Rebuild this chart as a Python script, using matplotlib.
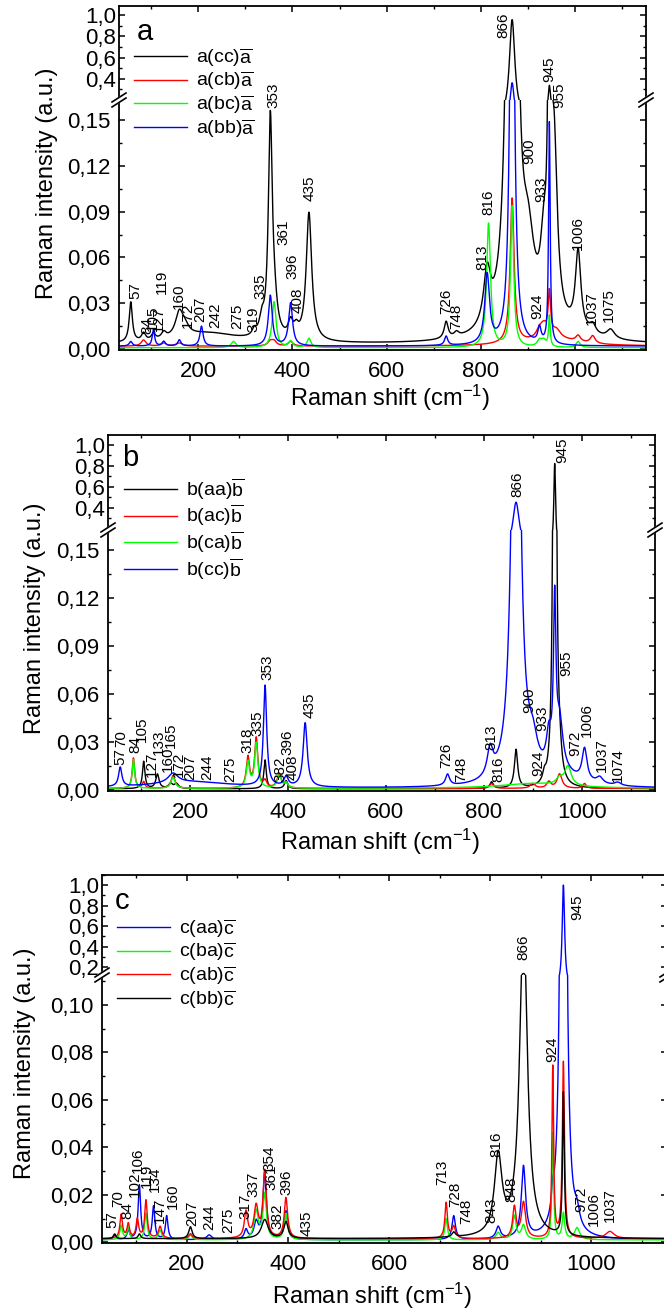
import numpy as np
import matplotlib
matplotlib.use("Agg")
import matplotlib.pyplot as plt
from matplotlib.ticker import MultipleLocator, FixedLocator, FuncFormatter
from matplotlib.lines import Line2D

plt.rcParams['font.family'] = ['Liberation Sans', 'DejaVu Sans']
plt.rcParams['mathtext.fontset'] = 'custom'
plt.rcParams['mathtext.rm'] = 'Liberation Sans'
plt.rcParams['mathtext.it'] = 'Liberation Sans'
plt.rcParams['mathtext.bf'] = 'Liberation Sans:bold'

# ---- peak tables: position (cm-1), height, half width ----
# panel a
a_cc_pos = [57, 84, 105, 127, 160, 172, 220, 319, 335, 353, 361, 396, 408, 435, 726, 748, 813, 866, 900, 933, 945, 955, 1006, 1037, 1075, 940]
a_cc_amp = [0.026, 0.005, 0.004, 0.004, 0.016, 0.005, 0.007, 0.004, 0.010, 0.140, 0.018, 0.010, 0.006, 0.084, 0.011, 0.003, 0.034, 0.94, 0.045, 0.038, 0.26, 0.11, 0.052, 0.006, 0.006, 0.008]
a_cc_hw = [4, 5, 5, 6, 10, 10, 80, 5, 6, 5, 8, 6, 6, 7, 5, 6, 9, 7, 15, 8, 3, 8, 7, 8, 10, 60]
a_cb_pos = [84, 127, 160, 353, 361, 396, 866, 924, 933, 945, 960, 1006, 1037, 950]
a_cb_amp = [0.004, 0.002, 0.002, 0.003, 0.003, 0.003, 0.095, 0.005, 0.007, 0.028, 0.005, 0.004, 0.005, 0.005]
a_cb_hw = [6, 6, 8, 6, 6, 6, 5, 8, 8, 3, 10, 6, 6, 60]
a_bc_pos = [275, 361, 396, 435, 816, 866, 924, 933, 945, 1006]
a_bc_amp = [0.004, 0.030, 0.004, 0.006, 0.081, 0.092, 0.004, 0.004, 0.020, 0.004]
a_bc_hw = [6, 5, 5, 5, 5, 4, 6, 6, 2, 5]
a_bb_pos = [57, 105, 127, 160, 207, 353, 396, 726, 813, 866, 924, 945]
a_bb_amp = [0.003, 0.011, 0.003, 0.004, 0.013, 0.033, 0.028, 0.006, 0.045, 0.36, 0.010, 0.145]
a_bb_hw = [4, 3, 4, 4, 4, 5, 5, 4, 6, 5, 4, 2]
a_base = [0.003, 0.002, 0.001, 0.002]
a_names = [r'a(cc)$\overline{\mathrm{a}}$', r'a(cb)$\overline{\mathrm{a}}$',
           r'a(bc)$\overline{\mathrm{a}}$', r'a(bb)$\overline{\mathrm{a}}$']
a_colors = ['black', '#ff0000', '#00ff00', '#0000ff']
a_peak_labels = [57, 84, 105, 127, 119, 160, 172, 207, 242, 275, 319, 335, 353, 361, 396, 408, 435,
                 726, 748, 813, 816, 866, 900, 924, 933, 945, 955, 1006, 1037, 1075]

# panel b
b_aa_pos = [105, 133, 160, 172, 353, 396, 816, 866, 924, 945, 955]
b_aa_amp = [0.017, 0.009, 0.003, 0.003, 0.018, 0.005, 0.004, 0.024, 0.005, 0.82, 0.012]
b_aa_hw = [3, 4, 5, 5, 3, 4, 4, 4, 4, 2.2, 5]
b_ac_pos = [84, 105, 165, 318, 335, 353, 382, 396, 816, 900, 933, 955, 1006]
b_ac_amp = [0.019, 0.004, 0.008, 0.019, 0.031, 0.004, 0.009, 0.003, 0.003, 0.003, 0.004, 0.009, 0.003]
b_ac_hw = [3, 3, 5, 4, 4, 4, 5, 4, 5, 6, 5, 6, 4]
b_ca_pos = [84, 165, 318, 335, 382, 396, 955, 972, 900]
b_ca_amp = [0.018, 0.007, 0.016, 0.028, 0.008, 0.003, 0.004, 0.012, 0.003]
b_ca_hw = [3, 5, 4, 4, 5, 4, 8, 8, 80]
b_cc_pos = [57, 165, 200, 353, 396, 435, 726, 813, 866, 900, 933, 945, 955, 1006, 1037, 1074, 960]
b_cc_amp = [0.012, 0.006, 0.004, 0.063, 0.006, 0.040, 0.007, 0.017, 0.45, 0.018, 0.020, 0.10, 0.03, 0.02, 0.004, 0.002, 0.006]
b_cc_hw = [4, 12, 100, 4, 5, 5, 5, 7, 8, 12, 6, 3, 8, 6, 8, 8, 40]
b_base = [0.0008, 0.001, 0.001, 0.001]
b_names = [r'b(aa)$\overline{\mathrm{b}}$', r'b(ac)$\overline{\mathrm{b}}$',
           r'b(ca)$\overline{\mathrm{b}}$', r'b(cc)$\overline{\mathrm{b}}$']
b_colors = ['black', '#ff0000', '#00ff00', '#0000ff']
b_peak_labels = [57, 70, 84, 105, 127, 133, 160, 165, 172, 207, 244, 275, 318, 335, 353, 382, 396, 408, 435,
                 726, 748, 813, 816, 866, 900, 924, 933, 945, 955, 972, 1006, 1037, 1074]

# panel c
c_aa_pos = [57, 84, 106, 134, 160, 244, 317, 337, 354, 396, 728, 816, 866, 924, 945, 972]
c_aa_amp = [0.002, 0.004, 0.023, 0.014, 0.010, 0.002, 0.004, 0.007, 0.028, 0.012, 0.010, 0.005, 0.030, 0.008, 1.0, 0.006]
c_aa_hw = [3, 3, 3, 3, 3, 6, 4, 5, 4, 4, 4, 5, 5, 3, 2.9, 6]
c_ba_pos = [70, 84, 119, 147, 207, 337, 354, 396, 713, 816, 848, 866, 924, 945, 972]
c_ba_amp = [0.006, 0.005, 0.011, 0.004, 0.002, 0.012, 0.019, 0.011, 0.009, 0.003, 0.010, 0.006, 0.045, 0.011, 0.005]
c_ba_hw = [3, 3, 3, 4, 4, 5, 4, 4, 3, 5, 4, 5, 2, 3, 6]
c_ab_pos = [70, 84, 102, 119, 147, 207, 317, 337, 354, 396, 713, 728, 848, 866, 924, 945, 1037]
c_ab_amp = [0.010, 0.006, 0.008, 0.016, 0.005, 0.002, 0.011, 0.013, 0.028, 0.017, 0.015, 0.005, 0.013, 0.015, 0.072, 0.074, 0.003]
c_ab_hw = [3, 3, 3, 3, 4, 4, 4, 5, 4, 4, 3, 4, 4, 5, 2, 2.5, 10]
c_bb_pos = [57, 106, 207, 354, 396, 728, 816, 866, 945]
c_bb_amp = [0.002, 0.002, 0.005, 0.008, 0.007, 0.002, 0.033, 0.135, 0.060]
c_bb_hw = [3, 3, 4, 8, 5, 4, 9, 9, 2]
c_base = [0.001, 0.001, 0.0015, 0.0015]
c_names = [r'c(aa)$\overline{\mathrm{c}}$', r'c(ba)$\overline{\mathrm{c}}$',
           r'c(ab)$\overline{\mathrm{c}}$', r'c(bb)$\overline{\mathrm{c}}$']
c_colors = ['#0000ff', '#00ff00', '#ff0000', 'black']
c_peak_labels = [57, 70, 84, 102, 106, 119, 134, 147, 160, 207, 244, 275, 317, 337, 354, 361, 382, 396, 435,
                 713, 728, 748, 843, 816, 848, 866, 924, 945, 972, 1006, 1037]

# where each peak label sits (x in cm-1, bottom of the text in intensity units)
a_lab_x = [66, 92, 104, 117, 124, 158, 179, 204, 236, 283, 317, 332, 359, 380, 400, 410, 436,
           726, 747, 803, 815, 847, 902, 919, 928, 945, 966, 1006, 1036, 1072]
a_lab_y = [0.0326, 0.0098, 0.0117, 0.011, 0.036, 0.026, 0.014, 0.0176, 0.014, 0.013, 0.011, 0.033, 0.158, 0.068,
           0.046, 0.024, 0.097, 0.023, 0.013, 0.052, 0.088, 0.78, 0.121, 0.0196, 0.096, 0.37, 0.158, 0.065,
           0.016, 0.0176]
b_lab_x = [57, 59, 88, 102, 122, 135, 155, 160, 176, 200, 235, 282, 318, 337, 357, 384, 398, 410, 445,
           723, 755, 816, 829, 868, 892, 912, 920, 960, 969, 986, 1010, 1041, 1074]
b_lab_y = [0.0156, 0.027, 0.023, 0.030, 0.008, 0.022, 0.011, 0.026, 0.008, 0.006, 0.006, 0.005, 0.023, 0.034,
           0.069, 0.005, 0.022, 0.006, 0.045, 0.014, 0.005, 0.025, 0.005, 0.505, 0.048, 0.009, 0.037, 0.83,
           0.071, 0.021, 0.033, 0.011, 0.005]
c_lab_x = [52, 64, 83, 97, 103, 121, 137, 147, 172, 210, 245, 281, 315, 331, 364, 368, 380, 397, 437,
           706, 731, 753, 802, 813, 843, 865, 922, 972, 980, 1006, 1036]
c_lab_y = [0.006, 0.015, 0.010, 0.019, 0.029, 0.023, 0.021, 0.008, 0.014, 0.007, 0.005, 0.004, 0.010, 0.019,
           0.030, 0.022, 0.0055, 0.020, 0.0025, 0.024, 0.015, 0.0075, 0.008, 0.036, 0.017, 0.27, 0.076, 0.66,
           0.0126, 0.0067, 0.0084]

x = np.arange(30, 1151, 0.5)


def spectrum(pos, amp, hw, base):
    y = np.full_like(x, base)
    for p, a, w in zip(pos, amp, hw):
        y += a * w**2 / ((x - p)**2 + w**2)
    return y


W, H = 664, 1313
fig = plt.figure(figsize=(W / 100, H / 100), dpi=100)


def rect(l, t, r, b):
    return [l / W, 1 - b / H, (r - l) / W, (b - t) / H]


def fmt(nd):
    return FuncFormatter(lambda v, p: f'{v:.{nd}f}'.replace('.', ','))


panels = [
    dict(box=(119, 6, 646, 100, 350), lo=(-0.0005, 0.163), up=(0.2, 1.085),
         lo_major=0.03, lo_minor=0.015, up_ticks=[0.4, 0.6, 0.8, 1.0],
         series=[(a_cc_pos, a_cc_amp, a_cc_hw), (a_cb_pos, a_cb_amp, a_cb_hw),
                 (a_bc_pos, a_bc_amp, a_bc_hw), (a_bb_pos, a_bb_amp, a_bb_hw)],
         base=a_base, names=a_names, colors=a_colors,
         labels=(a_peak_labels, a_lab_x, a_lab_y), letter='a', letter_xy=(145, 32),
         leg=(134, 46), ylab=(47, 183), xlab=(390, 398)),
    dict(box=(108, 435, 655, 530, 791), lo=(-0.0006, 0.1625), up=(0.19, 1.095),
         lo_major=0.03, lo_minor=0.015, up_ticks=[0.4, 0.6, 0.8, 1.0],
         series=[(b_aa_pos, b_aa_amp, b_aa_hw), (b_ac_pos, b_ac_amp, b_ac_hw),
                 (b_ca_pos, b_ca_amp, b_ca_hw), (b_cc_pos, b_cc_amp, b_cc_hw)],
         base=b_base, names=b_names, colors=b_colors,
         labels=(b_peak_labels, b_lab_x, b_lab_y), letter='b', letter_xy=(130, 458),
         leg=(124, 476), ylab=(35, 618), xlab=(380, 842)),
    dict(box=(102, 875, 667, 975, 1243), lo=(-0.0003, 0.1126), up=(0.122, 1.1),
         lo_major=0.02, lo_minor=0.01, up_ticks=[0.2, 0.4, 0.6, 0.8, 1.0],
         series=[(c_aa_pos, c_aa_amp, c_aa_hw), (c_ba_pos, c_ba_amp, c_ba_hw),
                 (c_ab_pos, c_ab_amp, c_ab_hw), (c_bb_pos, c_bb_amp, c_bb_hw)],
         base=c_base, names=c_names, colors=c_colors,
         labels=(c_peak_labels, c_lab_x, c_lab_y), letter='c', letter_xy=(122, 901),
         leg=(117, 917), ylab=(25, 1063), xlab=(372, 1296)),
]

for P in panels:
    l, t, r, m, b = P['box']
    ax_up = fig.add_axes(rect(l, t, r, m))
    ax_lo = fig.add_axes(rect(l, m, r, b))
    handles = []
    for (pos, amp, hw), base, name, col in zip(P['series'], P['base'], P['names'], P['colors']):
        y = spectrum(pos, amp, hw, base)
        h, = ax_lo.plot(x, y, color=col, lw=1.0, label=name)
        ax_up.plot(x, y, color=col, lw=1.0)
        handles.append(h)

    for ax in (ax_up, ax_lo):
        ax.set_xlim(32, 1150)
        ax.xaxis.set_major_locator(MultipleLocator(200))
        ax.xaxis.set_minor_locator(MultipleLocator(100))
        for s in ax.spines.values():
            s.set_linewidth(1.3)
        ax.tick_params(which='major', direction='in', length=4.5, width=1.1, labelsize=16)
        ax.tick_params(which='minor', direction='in', length=2.5, width=1.0)
    ax_lo.set_ylim(*P['lo'])
    ax_up.set_ylim(*P['up'])
    ax_lo.yaxis.set_major_locator(MultipleLocator(P['lo_major']))
    ax_lo.yaxis.set_minor_locator(MultipleLocator(P['lo_minor']))
    ax_lo.yaxis.set_major_formatter(fmt(2))
    ax_up.yaxis.set_major_locator(FixedLocator(P['up_ticks']))
    ax_up.yaxis.set_minor_locator(MultipleLocator(0.1))
    ax_up.yaxis.set_major_formatter(fmt(1))
    ax_lo.spines['top'].set_visible(False)
    ax_up.spines['bottom'].set_visible(False)
    ax_lo.tick_params(which='both', top=False, right=True)
    ax_lo.tick_params(axis='y', pad=6)
    ax_lo.tick_params(axis='x', pad=8)
    ax_up.tick_params(which='both', bottom=False, labelbottom=False, top=True, right=True)
    ax_up.tick_params(axis='y', pad=2)

    # peak position labels
    lo_top = P['lo'][1]
    for lab, lx, ly in zip(*P['labels']):
        ax = ax_up if ly > lo_top else ax_lo
        ax.text(lx, ly, str(lab), rotation=90, ha='center', va='bottom', fontsize=11, clip_on=False)

    # axis break marks
    for xb in (l, r):
        fig.add_artist(Line2D([(xb - 6) / W, (xb + 6) / W], [1 - (m + 4) / H, 1 - (m - 4) / H],
                              color='white', lw=4, transform=fig.transFigure))
        for dy in (-2.5, 2.5):
            fig.add_artist(Line2D([(xb - 7) / W, (xb + 7) / W],
                                  [1 - (m + 4.5 + dy) / H, 1 - (m - 4.5 + dy) / H],
                                  color='black', lw=1.2, transform=fig.transFigure))

    fig.text(P['letter_xy'][0] / W, 1 - P['letter_xy'][1] / H, P['letter'], fontsize=21,
             ha='center', va='center')
    fig.legend(handles=handles, loc='upper left',
               bbox_to_anchor=(P['leg'][0] / W, 1 - P['leg'][1] / H), frameon=False,
               fontsize=14, handlelength=2.75, handletextpad=0.45, labelspacing=0.04,
               borderpad=0, borderaxespad=0)
    fig.text(P['ylab'][0] / W, 1 - P['ylab'][1] / H, 'Raman intensity (a.u.)', rotation=90,
             fontsize=17, ha='center', va='center')
    fig.text(P['xlab'][0] / W, 1 - P['xlab'][1] / H, r'Raman shift (cm$^{-1}$)',
             fontsize=17, ha='center', va='center')

fig.savefig('out.png', dpi=100)
